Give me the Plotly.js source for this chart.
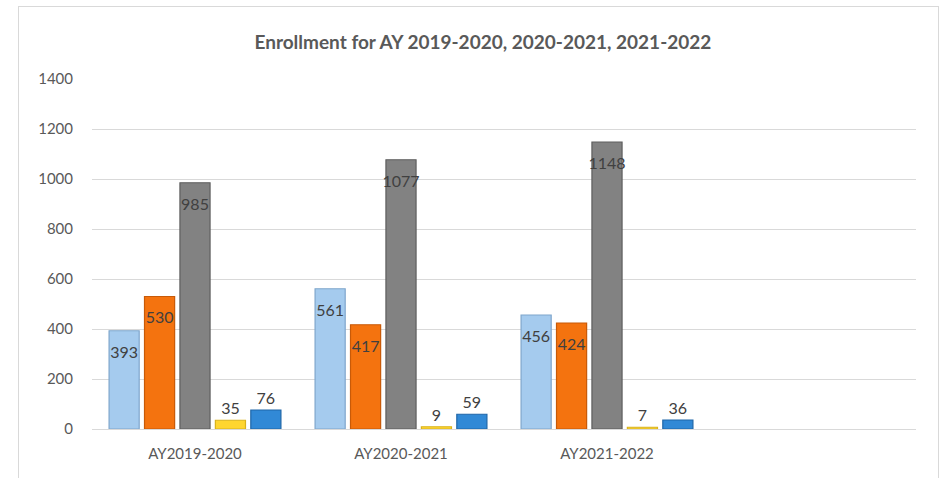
<!DOCTYPE html>
<html>
<head>
<meta charset="utf-8">
<script src="https://cdn.plot.ly/plotly-3.0.1.min.js"></script>
<style>
  html, body { margin: 0; padding: 0; background: #ffffff; }
  #chart { width: 945px; height: 478px; }
  #frame { position: absolute; left: 18px; top: 6px; width: 921px; height: 480px;
           border: 1px solid #d9d9d9; pointer-events: none; box-sizing: border-box; }
</style>
</head>
<body>
<div id="chart"></div>
<div id="frame"></div>
<script>
const categories = ["AY2019-2020", "AY2020-2021", "AY2021-2022"];
const seriesNames = ["Series 1", "Series 2", "Series 3", "Series 4", "Series 5"];
const series1 = [393, 561, 456];
const series2 = [530, 417, 424];
const series3 = [985, 1077, 1148];
const series4 = [35, 9, 7];
const series5 = [76, 59, 36];
const yTicks = [0, 200, 400, 600, 800, 1000, 1200, 1400];

const allSeries = [series1, series2, series3, series4, series5];
const fills = ["#A5CBEE", "#F4730F", "#828282", "#FFD630", "#3189D6"];
const edges = ["#7FA6CC", "#C85A08", "#5E5E5E", "#D9B21C", "#1F66A8"];

const traces = allSeries.map((vals, i) => ({
  type: "bar",
  name: seriesNames[i],
  x: categories,
  y: vals,
  texttemplate: vals.map(v => v >= 300 ? "<span style='font-size:3px'>&nbsp;</span><br>%{y}" : "%{y}"),
  textposition: vals.map(v => v >= 300 ? "inside" : "outside"),
  insidetextanchor: "end",
  textangle: 0,
  constraintext: "none",
  cliponaxis: false,
  textfont: { family: "Lato, 'Open Sans', sans-serif", size: 16, color: "#404040" },
  marker: { color: fills[i], line: { color: edges[i], width: 1.2 } },
  hoverinfo: "x+y+name"
}));

const layout = {
  width: 945,
  height: 478,
  margin: { l: 92, r: 29, t: 79, b: 49 },
  paper_bgcolor: "#ffffff",
  plot_bgcolor: "#ffffff",
  showlegend: false,
  barmode: "group",
  bargap: 0.14,
  bargroupgap: 0.15,
  title: {
    text: "<b>Enrollment for AY 2019-2020, 2020-2021, 2021-2022</b>",
    font: { family: "Lato, 'Open Sans', sans-serif", size: 19, color: "#595959" },
    x: 0.511, xanchor: "center", y: 0.912, yanchor: "middle"
  },
  xaxis: {
    type: "category",
    range: [-0.5, 3.5],
    showgrid: false,
    showline: false,
    zeroline: false,
    ticks: "",
    ticklabelstandoff: 14,
    tickfont: { family: "Lato, 'Open Sans', sans-serif", size: 15, color: "#595959" }
  },
  yaxis: {
    range: [0, 1400],
    tickvals: yTicks,
    ticktext: yTicks.map(String),
    showgrid: true,
    gridcolor: "#d9d9d9",
    gridwidth: 1,
    zeroline: true,
    zerolinecolor: "#d9d9d9",
    zerolinewidth: 1,
    showline: false,
    ticks: "",
    ticklabelstandoff: 18,
    tickfont: { family: "Lato, 'Open Sans', sans-serif", size: 15, color: "#595959" }
  }
};

Plotly.newPlot("chart", traces, layout, { displayModeBar: false, staticPlot: true });
</script>
</body>
</html>
